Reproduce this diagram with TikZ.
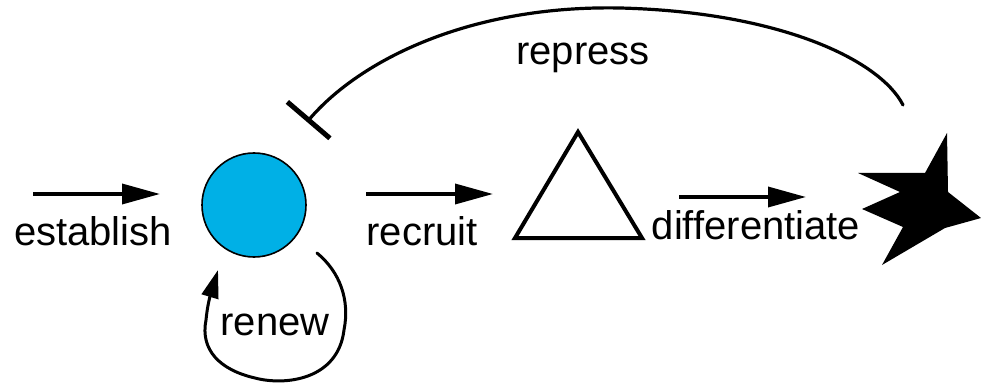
\documentclass[tikz,border=0pt]{standalone}
\usepackage{fontspec}
\setmainfont{Liberation Sans}
\usetikzlibrary{arrows.meta}
\definecolor{stemblue}{RGB}{0,176,230}
\begin{document}
\begin{tikzpicture}[x=1pt,y=-1pt,
  lbl/.style={inner sep=0pt, anchor=base, font=\fontsize{40}{48}\selectfont},
  actarrow/.style={line width=3.5pt, -{Triangle[length=38pt,width=20pt]}},
  loopline/.style={line width=3pt, line cap=round, -{Triangle[length=28pt,width=17pt]}},
  repline/.style={line width=3.2pt, line cap=round, -{Bar[width=56pt,line width=5pt]}},
  stemcell/.style={circle, draw=black, line width=1.6pt, fill=stemblue, minimum size=104pt, inner sep=0pt},
  tribox/.style={draw=black, line width=4pt, line join=miter},
]
\useasboundingbox (0,0) rectangle (981,387);
% shapes
\node[stemcell] (stem) at (254,205) {};
\coordinate (triA) at (578,132);
\coordinate (triB) at (642,238);
\coordinate (triC) at (515,238);
\draw[tribox] (triA) -- (triB) -- (triC) -- cycle;
\coordinate (tri) at (578,200);
\fill[black] (947,133) -- (925,173) -- (858,173) -- (900,192) -- (862,209)
  -- (903,227) -- (882,265) -- (945,228) -- (981,218) -- (948,192) -- cycle;
\coordinate (star) at (920,200);
% connector end points
\coordinate (estA) at (33,194);
\coordinate (estB) at (160,194);
\coordinate (recA) at (366,194);
\coordinate (recB) at (493,194);
\coordinate (difA) at (679,197);
\coordinate (difB) at (806,197);
\coordinate (repA) at (903,105);
\coordinate (repB) at (307,122);
\coordinate (renA) at (317,253);
\coordinate (renB) at (218,270);
% arrows
\draw[actarrow] (estA) -- (estB);
\draw[actarrow] (recA) -- (recB);
\draw[actarrow] (difA) -- (difB);
\draw[repline] (repA) .. controls (880,60) and (780,12) .. (620,8)
  .. controls (470,5) and (360,60) .. (repB);
\draw[loopline] (renA) .. controls (340,272) and (350,300) .. (344,330)
  .. controls (338,380) and (285,386) .. (255,378)
  .. controls (220,370) and (200,350) .. (206,320)
  .. controls (208,300) and (212,290) .. (renB);
% labels
\node[lbl] (lest) at (93,245) {establish};
\node[lbl] (lrec) at (422,245) {recruit};
\node[lbl] (ldif) at (756,240) {differentiate};
\node[lbl] (lrep) at (583,65) {repress};
\node[lbl] (lren) at (275,335) {renew};
\end{tikzpicture}
\end{document}
